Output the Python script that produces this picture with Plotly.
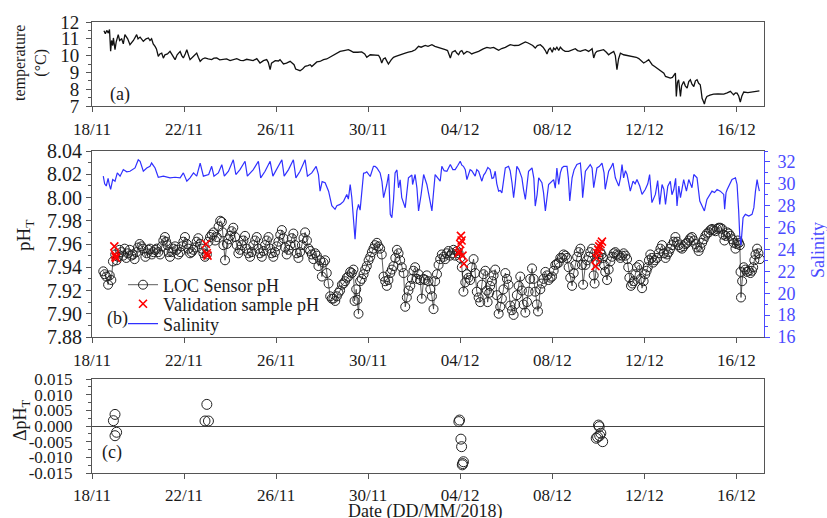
import pandas as pd
import plotly.graph_objects as go

START = pd.Timestamp("2018-11-18")

# ---------------- data (days since 18/11/2018 00:00) ----------------
temp_day = [0.52,0.58,0.64,0.71,0.76,0.79,0.81,0.85,0.9,0.93,0.97,1.0,1.05,1.1,1.14,1.2,1.29,1.36,1.43,1.55,
            1.65,1.8,1.94,2.0,2.09,2.23,2.35,2.45,2.52,2.59,2.66,2.74,2.8,2.88,2.95,3.03,3.1,3.17,3.28,3.39,
            3.5,3.61,3.7,3.83,3.9,3.97,4.05,4.12,4.2,4.26,4.4,4.55,4.62,4.7,4.8,4.91,5.05,5.2,5.3,5.42,
            5.55,5.71,5.85,6.0,6.15,6.29,6.45,6.58,6.72,6.87,7.0,7.16,7.3,7.45,7.59,7.66,7.74,7.8,7.96,8.1,
            8.17,8.32,8.45,8.61,8.7,8.78,8.85,8.9,9.04,9.15,9.26,9.38,9.48,9.55,9.65,9.77,9.9,10.06,10.2,10.32,
            10.42,10.6,10.78,10.95,11.14,11.25,11.36,11.55,11.72,11.85,11.94,12.09,12.3,12.45,12.52,12.59,12.66,12.74,12.8,12.88,
            13.0,13.1,13.2,13.32,13.45,13.61,13.75,13.9,14.05,14.19,14.3,14.48,14.6,14.77,14.9,15.06,15.2,15.35,15.45,15.57,
            15.65,15.78,15.85,15.93,16.0,16.07,16.15,16.29,16.4,16.5,16.58,16.7,16.8,17.0,17.16,17.3,17.45,17.56,17.67,17.8,
            17.96,18.17,18.35,18.54,18.7,18.83,18.95,19.04,19.15,19.26,19.35,19.48,19.6,19.7,19.77,19.84,19.91,20.0,20.06,20.13,
            20.2,20.28,20.35,20.45,20.56,20.71,20.85,21.0,21.1,21.22,21.3,21.44,21.58,21.73,21.8,21.87,21.94,22.1,22.23,22.35,
            22.45,22.55,22.67,22.74,22.81,22.88,22.96,23.1,23.25,23.4,23.54,23.65,23.76,23.85,23.97,24.08,24.19,24.27,24.34,24.45,
            24.55,24.65,24.77,24.85,24.92,25.02,25.13,25.22,25.3,25.35,25.39,25.44,25.49,25.53,25.57,25.62,25.71,25.78,25.86,25.93,
            26.0,26.07,26.15,26.22,26.29,26.36,26.43,26.47,26.51,26.56,26.61,26.66,26.72,26.85,27.01,27.2,27.45,27.6,27.74,27.82,
            27.88,27.96,28.03,28.1,28.17,28.24,28.32,28.5,28.68,28.85,29.0]
temp_val = [11.48,11.3,11.5,11.34,11.55,10.9,10.26,10.9,10.6,11.05,10.7,10.35,10.8,11.0,11.25,10.9,11.0,10.7,11.25,11.0,
            10.65,10.9,11.25,11.0,11.1,10.85,11.0,11.05,10.9,11.0,10.7,10.55,10.4,9.96,10.1,10.15,9.85,10.05,10.1,10.25,
            10.0,9.76,10.05,10.25,10.0,9.86,10.1,10.35,10.0,9.76,9.95,10.15,9.9,9.66,9.8,9.86,9.8,9.76,9.85,9.86,
            9.75,9.76,9.8,9.7,9.75,9.82,9.72,9.7,9.78,9.76,9.7,9.82,9.56,9.7,9.76,9.6,9.16,9.55,9.7,9.68,
            9.76,9.5,9.55,9.66,9.55,9.46,9.2,9.16,9.1,9.2,9.36,9.4,9.46,9.35,9.45,9.62,9.65,9.76,9.8,9.9,
            9.96,10.1,10.25,10.3,10.35,10.28,10.2,10.2,10.22,10.1,9.9,10.05,10.02,10.02,9.85,9.56,9.8,9.86,9.7,9.5,
            9.75,9.9,9.95,10.02,10.1,10.15,10.2,10.25,10.35,10.55,10.5,10.61,10.55,10.65,10.55,10.49,10.45,10.35,10.3,9.86,
            10.2,10.3,10.15,10.05,10.25,10.3,10.1,10.25,10.2,10.1,10.15,10.2,10.25,10.4,10.49,10.45,10.49,10.4,10.32,10.42,
            10.49,10.65,10.6,10.61,10.7,10.81,10.75,10.69,10.6,10.45,10.6,10.65,10.5,10.3,10.1,10.35,10.45,10.2,10.45,10.35,
            10.5,10.3,10.5,10.35,10.25,10.25,10.35,10.41,10.3,10.25,10.3,10.35,10.25,10.41,9.86,10.15,10.25,10.3,10.35,10.2,
            10.05,10.15,10.25,10.0,9.16,9.8,10.15,10.05,10.02,9.95,9.96,9.9,9.82,9.7,9.56,9.65,9.76,9.6,9.46,9.35,
            9.26,9.15,9.06,8.95,8.76,8.7,8.66,8.7,8.9,8.96,7.57,8.4,8.56,8.0,7.57,8.2,8.46,8.2,8.06,8.45,
            8.56,8.3,8.16,8.5,8.56,8.35,8.26,7.9,7.46,7.3,7.12,7.4,7.57,7.65,7.71,7.72,7.71,7.78,7.87,7.75,
            7.67,7.78,7.77,7.6,7.24,7.6,7.83,7.8,7.83,7.86,7.9]

ph_day = [0.49,0.55,0.62,0.7,0.77,0.84,0.91,1.01,1.07,1.13,1.2,1.28,1.35,1.42,1.49,1.56,1.64,1.71,1.78,1.85,
          1.93,2.0,2.07,2.15,2.22,2.32,2.38,2.45,2.52,2.6,2.67,2.74,2.81,2.88,2.96,3.03,3.1,3.17,3.22,3.28,
          3.33,3.39,3.46,3.54,3.61,3.68,3.75,3.83,3.9,3.97,4.04,4.12,4.19,4.26,4.33,4.4,4.48,4.55,4.62,4.7,
          4.77,4.84,4.91,4.99,5.06,5.13,5.2,5.28,5.35,5.42,5.5,5.57,5.64,5.68,5.71,5.78,5.86,5.93,6.0,6.07,
          6.14,6.22,6.29,6.36,6.43,6.51,6.58,6.65,6.72,6.8,6.87,6.94,7.01,7.09,7.16,7.23,7.3,7.38,7.45,7.52,
          7.6,7.67,7.74,7.81,7.88,7.95,8.03,8.1,8.18,8.25,8.32,8.39,8.46,8.54,8.61,8.68,8.75,8.83,8.9,8.97,
          9.04,9.12,9.19,9.26,9.34,9.41,9.48,9.55,9.62,9.7,9.77,9.84,9.91,9.99,10.06,10.13,10.2,10.28,10.35,10.42,
          10.49,10.57,10.64,10.71,10.78,10.86,10.93,11.0,11.07,11.14,11.22,11.29,11.36,11.41,11.48,11.53,11.58,11.65,11.72,11.8,
          11.87,11.94,12.02,12.09,12.16,12.23,12.3,12.38,12.45,12.52,12.59,12.67,12.74,12.81,12.88,12.96,13.03,13.1,13.18,13.25,
          13.32,13.39,13.46,13.54,13.61,13.68,13.75,13.83,13.9,13.97,14.04,14.12,14.19,14.26,14.33,14.41,14.48,14.55,14.62,14.7,
          14.77,14.84,14.91,14.99,15.06,15.13,15.2,15.28,15.35,15.42,15.49,15.56,15.64,15.71,15.78,15.86,15.93,16.0,16.07,16.14,
          16.22,16.29,16.36,16.43,16.5,16.58,16.65,16.72,16.8,16.87,16.94,17.01,17.09,17.16,17.19,17.26,17.3,17.38,17.45,17.52,
          17.59,17.67,17.74,17.81,17.88,17.96,18.03,18.1,18.17,18.25,18.32,18.39,18.46,18.54,18.61,18.68,18.75,18.83,18.9,18.97,
          19.04,19.12,19.19,19.26,19.33,19.38,19.48,19.55,19.62,19.7,19.77,19.84,19.92,19.99,20.06,20.13,20.2,20.28,20.35,20.42,
          20.49,20.57,20.64,20.71,20.78,20.86,20.93,21.0,21.08,21.15,21.22,21.29,21.34,21.44,21.51,21.58,21.65,21.73,21.8,21.84,
          21.94,22.01,22.09,22.14,22.2,22.25,22.3,22.38,22.45,22.52,22.6,22.67,22.74,22.81,22.88,22.96,23.03,23.1,23.18,23.25,
          23.3,23.35,23.42,23.48,23.54,23.61,23.68,23.78,23.84,23.9,23.97,24.04,24.1,24.15,24.2,24.26,24.32,24.38,24.46,24.55,
          24.62,24.7,24.77,24.85,24.92,24.99,25.06,25.13,25.2,25.28,25.35,25.42,25.49,25.56,25.64,25.71,25.78,25.86,25.93,26.0,
          26.07,26.15,26.22,26.29,26.36,26.43,26.51,26.58,26.65,26.72,26.8,26.87,26.94,27.01,27.09,27.16,27.23,27.3,27.38,27.43,
          27.48,27.54,27.6,27.67,27.74,27.82,27.89,27.96,28.01,28.06,28.11,28.15,28.18,28.2,28.25,28.32,28.39,28.46,28.54,28.61,
          28.68,28.73,28.78,28.83,28.9,28.96,29.02]
ph_val = [7.9365,7.934,7.932,7.925,7.933,7.929,7.945,7.951,7.946,7.949,7.955,7.953,7.95,7.956,7.948,7.952,7.955,7.95,7.951,7.947,
          7.953,7.957,7.96,7.958,7.956,7.949,7.952,7.955,7.956,7.951,7.953,7.955,7.956,7.953,7.951,7.958,7.963,7.966,7.962,7.959,
          7.953,7.949,7.953,7.956,7.958,7.955,7.951,7.953,7.958,7.962,7.966,7.96,7.956,7.952,7.953,7.955,7.957,7.962,7.965,7.96,
          7.956,7.952,7.949,7.951,7.962,7.966,7.968,7.97,7.963,7.966,7.975,7.98,7.979,7.97,7.959,7.946,7.96,7.964,7.967,7.971,
          7.974,7.966,7.959,7.952,7.955,7.959,7.963,7.967,7.956,7.952,7.949,7.953,7.959,7.963,7.966,7.956,7.952,7.949,7.954,7.959,
          7.963,7.966,7.956,7.952,7.949,7.953,7.958,7.962,7.968,7.972,7.965,7.957,7.951,7.955,7.959,7.965,7.969,7.959,7.952,7.948,
          7.953,7.959,7.965,7.97,7.963,7.956,7.954,7.951,7.947,7.952,7.95,7.941,7.946,7.932,7.944,7.946,7.935,7.926,7.915,7.913,
          7.913,7.911,7.915,7.918,7.92,7.925,7.926,7.928,7.931,7.932,7.936,7.935,7.938,7.911,7.921,7.912,7.9,7.928,7.93,7.934,
          7.938,7.941,7.946,7.949,7.953,7.956,7.959,7.961,7.958,7.956,7.951,7.932,7.928,7.924,7.929,7.935,7.938,7.941,7.948,7.955,
          7.952,7.946,7.94,7.935,7.906,7.914,7.92,7.924,7.93,7.937,7.94,7.93,7.934,7.929,7.913,7.93,7.929,7.933,7.928,7.921,
          7.915,7.904,7.928,7.934,7.942,7.947,7.951,7.949,7.947,7.952,7.954,7.95,7.952,7.955,7.95,7.954,7.952,7.948,7.94,7.919,
          7.927,7.934,7.931,7.929,7.94,7.947,7.935,7.919,7.914,7.91,7.925,7.934,7.937,7.92,7.91,7.918,7.924,7.928,7.933,7.938,
          7.916,7.9,7.906,7.913,7.921,7.935,7.93,7.925,7.907,7.903,7.899,7.908,7.916,7.924,7.932,7.92,7.908,7.901,7.91,7.919,
          7.93,7.939,7.93,7.919,7.908,7.902,7.921,7.926,7.93,7.936,7.933,7.929,7.931,7.932,7.937,7.942,7.943,7.944,7.948,7.948,
          7.951,7.95,7.948,7.94,7.931,7.924,7.935,7.942,7.949,7.953,7.956,7.942,7.925,7.942,7.946,7.949,7.953,7.956,7.933,7.926,
          7.945,7.949,7.953,7.951,7.948,7.942,7.936,7.929,7.938,7.945,7.949,7.952,7.953,7.951,7.95,7.948,7.95,7.952,7.95,7.947,
          7.94,7.931,7.924,7.926,7.928,7.934,7.94,7.942,7.93,7.922,7.928,7.934,7.937,7.94,7.946,7.951,7.948,7.944,7.946,7.948,
          7.952,7.956,7.959,7.952,7.948,7.951,7.953,7.956,7.959,7.962,7.966,7.962,7.959,7.957,7.956,7.958,7.96,7.961,7.963,7.965,
          7.966,7.963,7.96,7.957,7.954,7.957,7.961,7.964,7.967,7.969,7.97,7.972,7.973,7.972,7.971,7.973,7.974,7.974,7.973,7.968,
          7.963,7.967,7.97,7.969,7.967,7.964,7.961,7.956,7.96,7.963,7.961,7.959,7.936,7.914,7.928,7.94,7.938,7.936,7.937,7.935,
          7.937,7.94,7.946,7.951,7.956,7.952,7.947]

sal_day = [0.49,0.55,0.62,0.7,0.75,0.81,0.9,1.0,1.1,1.22,1.36,1.51,1.65,1.87,2.01,2.09,2.23,2.38,2.52,2.59,
           2.74,2.88,3.1,3.39,3.61,3.83,3.97,4.12,4.26,4.41,4.55,4.7,4.84,5.07,5.2,5.3,5.49,5.64,5.75,5.93,
           6.14,6.25,6.43,6.65,6.75,7.01,7.23,7.33,7.52,7.74,7.86,8.03,8.25,8.35,8.54,8.75,8.86,9.04,9.26,9.36,
           9.55,9.74,9.84,9.91,10.0,10.13,10.28,10.42,10.56,10.64,10.78,10.93,11.07,11.14,11.22,11.29,11.36,11.43,11.51,11.58,
           11.65,11.72,11.8,11.87,11.94,12.09,12.23,12.3,12.38,12.52,12.6,12.67,12.74,12.81,12.89,12.96,13.03,13.1,13.17,13.25,
           13.32,13.39,13.46,13.61,13.75,13.9,13.93,14.04,14.12,14.19,14.3,14.41,14.55,14.7,14.77,14.91,15.06,15.13,15.2,15.3,
           15.42,15.57,15.68,15.78,15.9,16.0,16.07,16.14,16.22,16.29,16.43,16.5,16.65,16.72,16.8,16.94,17.02,17.09,17.2,17.3,
           17.38,17.45,17.52,17.59,17.67,17.74,17.81,17.96,18.1,18.17,18.25,18.32,18.39,18.46,18.55,18.68,18.75,18.83,18.97,19.12,
           19.2,19.26,19.34,19.41,19.55,19.62,19.7,19.77,19.84,20.06,20.13,20.2,20.28,20.35,20.42,20.5,20.64,20.7,20.76,20.86,
           20.95,21.07,21.22,21.28,21.32,21.44,21.55,21.65,21.73,21.8,21.94,22.05,22.16,22.25,22.3,22.45,22.55,22.64,22.74,22.89,
           22.96,23.03,23.1,23.18,23.25,23.39,23.51,23.6,23.68,23.8,23.9,24.04,24.15,24.23,24.33,24.48,24.58,24.67,24.77,24.85,
           24.92,25.02,25.13,25.2,25.28,25.36,25.42,25.5,25.57,25.71,25.83,25.93,26.07,26.15,26.29,26.35,26.41,26.51,26.61,26.72,
           26.83,26.94,27.05,27.16,27.3,27.45,27.49,27.55,27.6,27.7,27.81,27.96,28.03,28.1,28.15,28.2,28.25,28.29,28.39,28.46,
           28.54,28.68,28.76,28.83,28.9,28.95,29.0]
sal_val = [30.7,30.0,29.8,30.5,29.95,29.5,30.4,30.24,31.0,30.7,31.3,31.1,31.15,31.45,32.2,32.06,31.15,31.45,31.6,31.9,
           31.45,30.6,30.7,30.55,30.6,30.55,31.0,30.24,30.55,31.0,30.7,31.9,30.7,30.85,31.6,30.7,31.0,31.75,30.7,31.15,
           32.2,30.85,31.3,32.06,30.7,31.3,32.06,30.55,31.15,32.06,30.7,31.3,32.2,30.7,31.3,32.2,30.55,31.15,32.2,30.7,
           31.0,31.6,30.85,29.33,30.2,30.1,29.33,28.0,27.67,28.0,28.12,28.4,29.03,28.6,29.94,28.73,27.0,24.94,27.52,28.12,
           27.6,29.33,30.97,31.0,31.1,30.67,31.6,31.6,31.45,31.0,30.2,28.73,29.3,29.94,30.9,27.21,26.9,28.5,31.0,31.27,
           29.64,30.36,28.73,27.82,30.55,30.8,29.94,30.85,29.6,27.52,29.0,30.85,29.94,28.4,27.52,30.85,30.5,30.24,31.6,31.2,
           31.15,31.76,31.3,31.3,31.7,32.06,31.7,31.6,31.3,30.39,31.3,31.2,30.7,31.3,31.15,30.24,30.8,31.0,31.5,31.3,
           30.5,30.55,31.15,30.0,29.33,29.4,29.18,31.45,31.6,31.2,30.1,28.73,30.0,31.6,31.3,30.55,29.5,28.58,31.15,31.45,
           30.5,27.97,29.0,30.55,30.1,29.2,27.52,28.5,29.94,30.39,29.6,31.45,29.94,31.0,31.45,31.6,31.6,30.5,28.43,30.55,
           31.3,31.76,31.9,30.5,28.73,31.15,31.5,31.76,31.45,29.64,31.45,31.6,31.9,31.0,29.5,31.15,31.5,31.9,30.55,29.79,
           30.5,31.76,30.55,31.2,30.85,29.33,30.24,30.0,30.39,29.8,29.03,29.48,30.0,30.85,28.28,29.03,30.3,28.12,29.94,29.5,
           28.12,29.79,30.24,29.0,29.48,30.5,27.97,29.8,28.73,30.39,29.33,30.39,29.64,30.85,30.55,29.5,28.43,27.97,27.52,28.58,
           29.0,29.33,29.2,29.48,29.33,29.03,27.67,29.2,29.48,29.9,30.39,30.55,29.94,27.5,25.09,24.4,25.8,26.9,27.21,27.1,
           27.06,27.21,27.82,29.33,30.39,29.8,29.33]

val_day = [0.97,1.0,1.02,1.05,4.95,4.99,5.02,15.93,15.97,16.0,16.03,16.06,16.1,16.16,21.88,21.92,21.96,22.0,22.04,22.1,22.16]
val_ph = [7.958,7.951,7.949,7.948,7.960,7.952,7.950,7.952,7.954,7.960,7.967,7.963,7.950,7.943,7.941,7.948,7.952,7.955,7.958,7.960,7.962]

dph_day = [0.93,1.0,1.0,1.07,4.91,4.99,5.06,15.94,15.97,16.03,16.06,16.09,16.11,16.14,21.91,21.97,22.01,22.04,22.06,22.11,22.19]
dph_val = [0.0017,0.0037,-0.0031,-0.002,0.0016,0.0069,0.0016,0.0014,0.0019,-0.0042,-0.0066,-0.0124,-0.012,-0.0114,
           -0.0039,-0.0035,0.0003,-0.0002,-0.0031,-0.0023,-0.005]

dph_ticks = [-0.015,-0.010,-0.005,0.0,0.005,0.010,0.015]


def to_dates(days):
    return START + pd.to_timedelta(days, unit="D")


FONT = "Liberation Serif"
TXT = "#1a1a1a"
AX = "#555555"
BLUE = "#3030ff"
BLUE_TXT = "#4a4aff"
W, H = 827, 518


def px_x(p):
    return p / W


def px_y(p):
    return 1 - p / H


fig = go.Figure()
fig.add_trace(go.Scatter(x=to_dates(temp_day), y=temp_val, mode="lines",
                         line=dict(color="#111111", width=1.3), showlegend=False,
                         xaxis="x", yaxis="y"))
fig.add_trace(go.Scatter(x=to_dates(ph_day), y=ph_val, mode="lines+markers", name="LOC Sensor pH",
                         line=dict(color="#333333", width=0.8),
                         marker=dict(symbol="circle-open", size=9, color="#222222", line=dict(width=1)),
                         xaxis="x2", yaxis="y2", legend="legend"))
fig.add_trace(go.Scatter(x=to_dates(val_day), y=val_ph, mode="markers", name="Validation sample pH",
                         marker=dict(symbol="x-thin-open", size=8, color="red", line=dict(width=1.6, color="red")),
                         xaxis="x2", yaxis="y2", legend="legend2"))
fig.add_trace(go.Scatter(x=to_dates(sal_day), y=sal_val, mode="lines", name="Salinity",
                         line=dict(color=BLUE, width=1.2),
                         xaxis="x2", yaxis="y4", legend="legend3"))
fig.add_trace(go.Scatter(x=to_dates(dph_day), y=dph_val, mode="markers", showlegend=False,
                         marker=dict(symbol="circle-open", size=10, color="#222222", line=dict(width=1)),
                         xaxis="x3", yaxis="y3"))

xr = [START, START + pd.Timedelta(days=29.2)]
xdom = [px_x(92), px_x(764)]
xcommon = dict(type="date", range=xr, domain=xdom, tickformat="%d/%m", dtick=4 * 86400000,
               tick0=START, ticks="outside", ticklen=5, tickcolor=AX, showline=True, linecolor=AX,
               linewidth=1, mirror=True, showgrid=False, zeroline=False, automargin=False,
               tickfont=dict(family=FONT, size=17, color=TXT))
ycommon = dict(ticks="outside", ticklen=5, tickcolor=AX, showline=True, linecolor=AX, linewidth=1,
               showgrid=False, zeroline=False, automargin=False)


def leg(ypx):
    return dict(x=px_x(123), y=px_y(ypx), xanchor="left", yanchor="middle", bgcolor="rgba(0,0,0,0)",
                font=dict(family=FONT, size=18, color=TXT), itemwidth=30, borderwidth=0)


fig.update_layout(
    width=W, height=H, margin=dict(l=0, r=0, t=0, b=0, autoexpand=False),
    paper_bgcolor="white", plot_bgcolor="white",
    font=dict(family=FONT, color=TXT),
    xaxis=dict(anchor="y", ticklabelstandoff=3, **xcommon),
    xaxis2=dict(anchor="y2", ticklabelstandoff=3, **xcommon),
    xaxis3=dict(anchor="y3", ticklabelstandoff=2, **xcommon),
    yaxis=dict(anchor="x", domain=[px_y(106), px_y(22)], range=[7, 12], dtick=1, mirror=True,
               minor=dict(dtick=0.5, ticks="outside", ticklen=3, tickcolor=AX),
               tickfont=dict(family=FONT, size=19, color=TXT), ticklabelstandoff=3, **ycommon),
    yaxis2=dict(anchor="x2", domain=[px_y(337), px_y(151)], range=[7.88, 8.04], dtick=0.02,
                tick0=7.88, tickformat=".2f",
                minor=dict(dtick=0.01, ticks="outside", ticklen=3, tickcolor=AX),
                tickfont=dict(family=FONT, size=20, color=TXT), **ycommon),
    yaxis4=dict(anchor="x2", overlaying="y2", side="right", range=[16, 33], dtick=2, tick0=16,
                ticks="outside", ticklen=5, tickcolor=BLUE_TXT, showline=True, linecolor=BLUE_TXT,
                linewidth=1, showgrid=False, zeroline=False, automargin=False, ticklabelstandoff=4,
                minor=dict(dtick=1, ticks="outside", ticklen=3, tickcolor=BLUE_TXT),
                tickfont=dict(family=FONT, size=18, color=BLUE_TXT)),
    yaxis3=dict(anchor="x3", domain=[px_y(473), px_y(379)], range=[-0.015, 0.015], mirror=True,
                tickmode="array", tickvals=dph_ticks, ticktext=[f"{v:.3f}" for v in dph_ticks],
                minor=dict(dtick=0.0025, tick0=0, ticks="outside", ticklen=3, tickcolor=AX),
                tickfont=dict(family=FONT, size=17, color=TXT), ticklabelstandoff=10,
                ticks="outside", ticklen=5, tickcolor=AX, showline=True, linecolor=AX, linewidth=1,
                showgrid=False, zeroline=True, zerolinecolor="#444444", zerolinewidth=1, automargin=False),
    legend=leg(285),
    legend2=leg(304),
    legend3=leg(324),
)

ann = [
    dict(text="temperature<br>(°C)", x=px_x(31), y=px_y(63), textangle=-90, font=dict(size=16)),
    dict(text="pH<sub>T</sub>", x=px_x(25), y=px_y(236), textangle=-90, font=dict(size=19)),
    dict(text="ΔpH<sub>T</sub>", x=px_x(21), y=px_y(420), textangle=-90, font=dict(size=18)),
    dict(text="Salinity", x=px_x(818), y=px_y(250), textangle=-90, font=dict(size=18, color=BLUE_TXT)),
    dict(text="Date (DD/MM/2018)", x=px_x(425), y=px_y(511), font=dict(size=18)),
    dict(text="(a)", x=px_x(120), y=px_y(95), font=dict(size=18)),
    dict(text="(b)", x=px_x(117), y=px_y(318), font=dict(size=18)),
    dict(text="(c)", x=px_x(112), y=px_y(452), font=dict(size=18)),
]
for a in ann:
    a.update(xref="paper", yref="paper", showarrow=False, xanchor="center", yanchor="middle")
    f = dict(family=FONT, color=TXT)
    f.update(a["font"])
    a["font"] = f
fig.update_layout(annotations=ann)

fig.write_html("out.html")
